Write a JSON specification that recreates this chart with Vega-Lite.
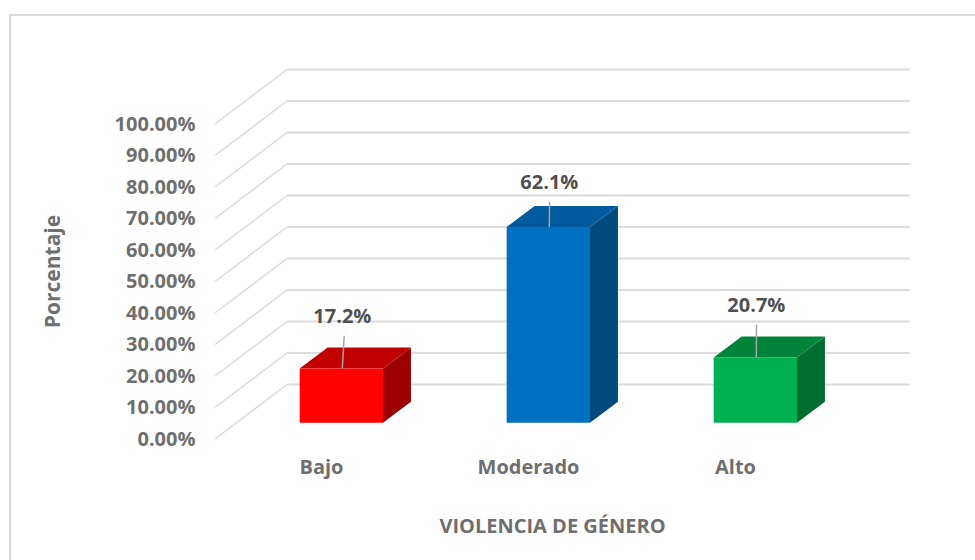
{
"$schema":"https://vega.github.io/schema/vega-lite/v6.json",
"width":975,"height":560,"padding":0,"autosize":{"type":"none"},
"background":"white",
"config":{"view":{"stroke":null}},
"datasets":{
"barras":[{"nivel":"Bajo","orden":1,"porcentaje":17.2},{"nivel":"Moderado","orden":2,"porcentaje":62.1},{"nivel":"Alto","orden":3,"porcentaje":20.7}],
"marcas":[{"t":0},{"t":10},{"t":20},{"t":30},{"t":40},{"t":50},{"t":60},{"t":70},{"t":80},{"t":90},{"t":100}]
},
"encoding":{
"x":{"field":"x","type":"quantitative","scale":{"domain":[-0.5507,4.1594],"nice":false,"zero":false},
"axis":{"orient":"bottom","offset":-103,"values":[1,2,3],"labelExpr":"datum.value==1?'Bajo':datum.value==2?'Moderado':'Alto'","domain":false,"ticks":false,"grid":false,"labelPadding":0,"labelBaseline":"top","labelFont":"Open Sans","labelFontWeight":"bold","labelFontSize":20,"labelColor":"#6f6f6f","title":"VIOLENCIA DE GÉNERO","titleFont":"Open Sans","titleFontWeight":"bold","titleFontSize":20,"titleColor":"#6f6f6f","titleX":552,"titleY":69,"titleBaseline":"middle","titleAlign":"center"}},
"y":{"field":"y","type":"quantitative","scale":{"domain":[-38.41,139.37],"nice":false,"zero":false},
"axis":{"orient":"left","offset":-195,"values":[0,10,20,30,40,50,60,70,80,90,100],"labelExpr":"format(datum.value,'.2f')+'%'","domain":false,"ticks":false,"grid":false,"labelPadding":0,"labelFont":"Open Sans","labelFontWeight":"bold","labelFontSize":20,"labelColor":"#6f6f6f","title":"Porcentaje","titleFont":"Open Sans","titleFontWeight":"bold","titleFontSize":21,"titleColor":"#6f6f6f","titleX":-142,"titleY":271,"titleBaseline":"middle","titleAlign":"center","titleAngle":-90}}
},
"layer":[
{"data":{"values":[{"marco":"borde"}]},
"transform":[{"calculate":"-0.502","as":"x"},{"calculate":"5","as":"x2"},{"calculate":"134.6","as":"y"},{"calculate":"-60","as":"y2"}],
"mark":{"type":"rect","fill":null,"stroke":"#d9d9d9","strokeWidth":2},
"encoding":{"x2":{"field":"x2"},"y2":{"field":"y2"}}},
{"data":{"name":"marcas"},
"transform":[{"calculate":"0.4879","as":"x"},{"calculate":"0.8357","as":"x2"},{"calculate":"datum.t","as":"y"},{"calculate":"datum.t+17.3","as":"y2"}],
"mark":{"type":"rule","color":"#dcdcdc","strokeWidth":1.5},
"encoding":{"x2":{"field":"x2"},"y2":{"field":"y2"}}},
{"data":{"name":"marcas"},
"transform":[{"calculate":"0.8357","as":"x"},{"calculate":"3.845","as":"x2"},{"calculate":"datum.t+17.3","as":"y"}],
"mark":{"type":"rule","color":"#dcdcdc","strokeWidth":2},
"encoding":{"x2":{"field":"x2"}}},
{"data":{"name":"barras"},
"transform":[{"calculate":"[0,1]","as":"p"},{"flatten":["p"]},
{"calculate":"datum.orden+0.2995+datum.p*0.135","as":"x"},
{"calculate":"5.17+datum.p*6.67","as":"y"},
{"calculate":"5.17+datum.p*6.67+datum.porcentaje","as":"y2"},
{"calculate":"datum.nivel+' lado'","as":"cara"}],
"mark":{"type":"area","line":false},
"encoding":{"y2":{"field":"y2"},"color":{"field":"cara","type":"nominal","legend":null,"scale":{"domain":["Bajo lado","Moderado lado","Alto lado","Bajo tapa","Moderado tapa","Alto tapa","Bajo frente","Moderado frente","Alto frente"],"range":["#9c0000","#004a80","#006e30","#c00000","#005a9c","#00843c","#ff0000","#0070c0","#00b050"]}}}},
{"data":{"name":"barras"},
"transform":[{"calculate":"[0,1,2,3]","as":"p"},{"flatten":["p"]},
{"calculate":"datum.orden-0.103+[0,0.135,0.4025,0.5375][datum.p]","as":"x"},
{"calculate":"5.17+datum.porcentaje+[0,0,0,6.67][datum.p]","as":"y"},
{"calculate":"5.17+datum.porcentaje+[0,6.67,6.67,6.67][datum.p]","as":"y2"},
{"calculate":"datum.nivel+' tapa'","as":"cara"}],
"mark":{"type":"area","line":false},
"encoding":{"y2":{"field":"y2"},"color":{"field":"cara","type":"nominal","legend":null}}},
{"data":{"name":"barras"},
"transform":[
{"calculate":"datum.orden-0.103","as":"x"},{"calculate":"datum.orden+0.2995","as":"x2"},
{"calculate":"5.17","as":"y"},{"calculate":"5.17+datum.porcentaje","as":"y2"},
{"calculate":"datum.nivel+' frente'","as":"cara"}],
"mark":{"type":"rect"},
"encoding":{"x2":{"field":"x2"},"y2":{"field":"y2"},"color":{"field":"cara","type":"nominal","legend":null}}},
{"data":{"name":"barras"},
"transform":[
{"calculate":"datum.orden+0.103","as":"x"},{"calculate":"datum.orden+(datum.orden==1?0.112:0.104)","as":"x2"},
{"calculate":"5.17+datum.porcentaje","as":"y"},{"calculate":"5.17+datum.porcentaje+(datum.orden==2?8:10.4)","as":"y2"}],
"mark":{"type":"rule","color":"#a6a6a6","strokeWidth":1.5},
"encoding":{"x2":{"field":"x2"},"y2":{"field":"y2"}}},
{"data":{"name":"barras"},
"transform":[
{"calculate":"datum.orden+0.103","as":"x"},
{"calculate":"5.17+datum.porcentaje+(datum.orden==2?14:16.3)","as":"y"},
{"calculate":"format(datum.porcentaje,'.1f')+'%'","as":"etiqueta"}],
"mark":{"type":"text","font":"Open Sans","fontWeight":"bold","fontSize":20,"color":"#505050","align":"center","baseline":"middle"},
"encoding":{"text":{"field":"etiqueta","type":"nominal"}}}
]
}
